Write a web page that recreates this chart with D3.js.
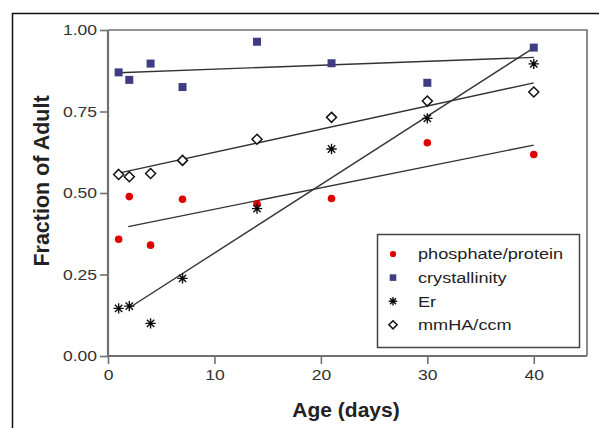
<!DOCTYPE html>
<html>
<head>
<meta charset="utf-8">
<script src="https://cdn.jsdelivr.net/npm/d3@7"></script>
<style>
  body { margin: 0; background: #fff; }
  svg { display: block; font-family: Arial, "Liberation Sans", sans-serif; }
</style>
</head>
<body>
<div id="chart"></div>
<script>
// values
const ages = [1, 2, 4, 7, 14, 21, 30, 40];
const phosphate = [0.358, 0.489, 0.340, 0.481, 0.466, 0.483, 0.654, 0.618];
const crystallinity = [0.870, 0.847, 0.897, 0.825, 0.964, 0.898, 0.838, 0.946];
const er = [0.146, 0.153, 0.100, 0.238, 0.452, 0.635, 0.729, 0.896];
const mmha = [0.557, 0.550, 0.560, 0.600, 0.665, 0.732, 0.782, 0.810];

// fitted lines, [x0, y0, x1, y1]
const phosphateFit = [1.9, 0.397, 40, 0.647];
const crystallinityFit = [1, 0.869, 40, 0.916];
const erFit = [2, 0.148, 39.7, 0.939];
const mmhaFit = [1, 0.561, 40, 0.838];

const xTicks = [0, 10, 20, 30, 40];
const yTicks = [0, 0.25, 0.5, 0.75, 1];
const seriesNames = ["phosphate/protein", "crystallinity", "Er", "mmHA/ccm"];

var width = 599, height = 428;
var left = 108, top_ = 30, right = 587, bottom = 356;

var svg = d3.select('#chart')
  .append('svg')
  .attr('width', width)
  .attr('height', height);

// outer frame (only top and left visible)
svg.append('path')
  .attr('d', `M12.5,${height} V13.5 H${width}`)
  .attr('fill', 'none')
  .attr('stroke', '#111')
  .attr('stroke-width', 1.5);

var x = d3.scaleLinear().domain([0, 45]).range([left, right]);
var y = d3.scaleLinear().domain([0, 1]).range([bottom, top_]);

const axisColor = '#707070';
const stretch = 1.17;   // tick/legend text looks horizontally stretched

// plot box, top and right
svg.append('path')
  .attr('d', `M${left},${top_} H${right} V${bottom}`)
  .attr('fill', 'none')
  .attr('stroke', axisColor)
  .attr('stroke-width', 1.6);

// axes
var yAxis = svg.append('g')
  .attr('transform', `translate(${left},0)`)
  .call(d3.axisLeft(y).tickValues(yTicks).tickFormat(d3.format('.2f')).tickSize(8).tickPadding(3));
var xAxis = svg.append('g')
  .attr('transform', `translate(0,${bottom})`)
  .call(d3.axisBottom(x).tickValues(xTicks).tickSize(8).tickPadding(5));

[yAxis, xAxis].forEach(function(ax) {
  ax.select('.domain').attr('stroke', axisColor).attr('stroke-width', 2.2);
  ax.selectAll('.tick line').attr('stroke', axisColor).attr('stroke-width', 1.6);
  ax.selectAll('.tick text')
    .attr('fill', '#333')
    .style('font-size', '15px')
    .style('font-family', 'Arial, "Liberation Sans", sans-serif');
});
yAxis.selectAll('.tick text')
  .attr('x', -11 / stretch)
  .attr('transform', `scale(${stretch},1)`);
xAxis.selectAll('.tick text')
  .attr('transform', `scale(${stretch},1)`);
// remove outer ticks of the domain path
yAxis.select('.domain').attr('d', `M0,${bottom}V${top_}`);
xAxis.select('.domain').attr('d', `M${left},0H${right}`);

// axis titles
svg.append('text')
  .attr('x', 346)
  .attr('y', 417)
  .attr('text-anchor', 'middle')
  .style('font-size', '21px')
  .style('font-weight', 'bold')
  .attr('fill', '#222')
  .text('Age (days)');

svg.append('text')
  .attr('transform', `translate(49,181) rotate(-90)`)
  .attr('text-anchor', 'middle')
  .style('font-size', '21.5px')
  .style('font-weight', 'bold')
  .attr('fill', '#222')
  .text('Fraction of Adult');

// marker drawing
const red = '#e00000';
const navy = '#3f3c85';

function asterisk(r) {
  var d = r * Math.SQRT1_2;
  return `M${-r},0H${r}M0,${-r}V${r}M${-d},${-d}L${d},${d}M${-d},${d}L${d},${-d}`;
}

function drawMarker(g, kind, s) {
  if (kind === 0) {
    g.append('circle').attr('r', 3.8 * s).attr('fill', red);
  } else if (kind === 1) {
    g.append('rect')
      .attr('x', -4 * s).attr('y', -4 * s)
      .attr('width', 8 * s).attr('height', 8 * s)
      .attr('fill', navy);
  } else if (kind === 2) {
    g.append('path').attr('d', asterisk(5.2 * s))
      .attr('stroke', '#111').attr('stroke-width', 1.4).attr('fill', 'none');
    g.append('circle').attr('r', 1.6 * s).attr('fill', '#000');
  } else {
    var r = 5 * s;
    g.append('path').attr('d', `M0,${-r}L${r},0L0,${r}L${-r},0Z`)
      .attr('fill', '#fff').attr('stroke', '#111').attr('stroke-width', 1.5);
  }
}

var series = [phosphate, crystallinity, er, mmha];
var fits = [phosphateFit, crystallinityFit, erFit, mmhaFit];

// fitted lines
svg.append('g').selectAll('line')
  .data(fits)
  .enter()
  .append('line')
  .attr('x1', d => x(d[0]))
  .attr('y1', d => y(d[1]))
  .attr('x2', d => x(d[2]))
  .attr('y2', d => y(d[3]))
  .attr('stroke', '#333')
  .attr('stroke-width', 1.4);

// points
series.forEach(function(vals, k) {
  svg.append('g').selectAll('g')
    .data(vals)
    .enter()
    .append('g')
    .attr('transform', (d, i) => `translate(${x(ages[i])},${y(d)})`)
    .each(function() { drawMarker(d3.select(this), k, 1); });
});

// legend
var legend = svg.append('g').attr('transform', 'translate(377,234)');
legend.append('rect')
  .attr('x', 0.5).attr('y', 0.5)
  .attr('width', 202).attr('height', 113)
  .attr('fill', '#fff')
  .attr('stroke', '#444')
  .attr('stroke-width', 1.5);

var rows = legend.selectAll('.row')
  .data(seriesNames)
  .enter()
  .append('g')
  .attr('class', 'row')
  .attr('transform', (d, i) => `translate(0,${20 + i * 23.6})`);

rows.each(function(d, i) {
  var sym = d3.select(this).append('g').attr('transform', 'translate(16,0)');
  drawMarker(sym, i, 0.82);
});

rows.append('text')
  .attr('transform', `translate(41,0) scale(${stretch},1)`)
  .attr('dy', '0.35em')
  .style('font-size', '15.5px')
  .attr('fill', '#222')
  .text(d => d);
</script>
</body>
</html>
